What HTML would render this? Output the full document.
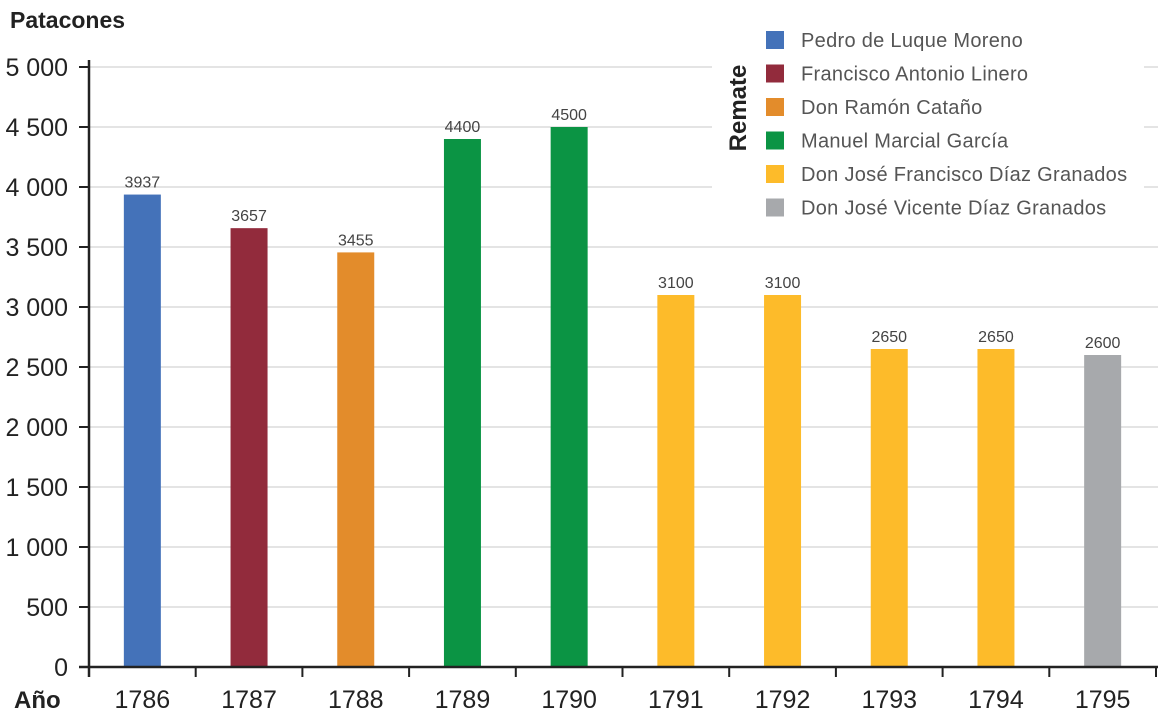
<!DOCTYPE html>
<html><head><meta charset="utf-8"><style>
body{margin:0;background:#fff;font-family:"Liberation Sans",sans-serif}
svg text{font-family:"Liberation Sans",sans-serif}
</style></head><body>
<svg width="1169" height="723" xmlns="http://www.w3.org/2000/svg" id="chart">
<g id="grid"></g><g id="bars"></g><g id="axes"></g><g id="legend"></g>
</svg>
<script>
const years=["1786","1787","1788","1789","1790","1791","1792","1793","1794","1795"];
const values=[3937,3657,3455,4400,4500,3100,3100,2650,2650,2600];
const owners=[0,1,2,3,3,4,4,4,4,5];
const names=["Pedro de Luque Moreno","Francisco Antonio Linero","Don Ramón Cataño","Manuel Marcial García","Don José Francisco Díaz Granados","Don José Vicente Díaz Granados"];
const colors=["#4472b9","#922b3c","#e38c2b","#0b9444","#fdbb2a","#a7a9ac"];
const yTicks=[0,500,1000,1500,2000,2500,3000,3500,4000,4500,5000];
const yLabels=["0","500","1 000","1 500","2 000","2 500","3 000","3 500","4 000","4 500","5 000"];
const NS="http://www.w3.org/2000/svg";
const x0=89,step=106.7,y0=667,yMax=5000,plotH=600;
const y=v=>y0-v/yMax*plotH;
const xc=i=>x0+step*(i+0.5);
function mk(p,t,a){const e=document.createElementNS(NS,t);for(const k in a)e.setAttribute(k,a[k]);p.appendChild(e);return e;}
const G=document.getElementById('grid'),B=document.getElementById('bars'),A=document.getElementById('axes'),L=document.getElementById('legend');
yTicks.forEach((t,i)=>{
 if(t>0){const g=mk(G,'line',{x1:x0,x2:1158,y1:y(t),y2:y(t),stroke:'#c8c8c8','stroke-width':1});
 
 }
 const tk=mk(A,'line',{x1:79,x2:x0,y1:y(t),y2:y(t),stroke:'#222','stroke-width':2});
 
 
 const tx=mk(A,'text',{x:68,y:y(t)+9,'text-anchor':'end','font-size':25,fill:'#222'});tx.textContent=yLabels[i];
 
 
});
const lb=mk(G,'rect',{x:712,y:20,width:432,height:215,fill:'#fff'});


years.forEach((yr,i)=>{
 const r=mk(B,'rect',{x:xc(i)-18.5,y:y(values[i]),width:37,height:y0-y(values[i]),fill:colors[owners[i]]});
 
 
 const v=mk(B,'text',{x:xc(i),y:y(values[i])-7,'text-anchor':'middle','font-size':16,fill:'#444'});v.textContent=values[i];
 
 
 const xl=mk(A,'text',{x:xc(i),y:708,'text-anchor':'middle','font-size':25,fill:'#222'});xl.textContent=yr;
 
 
});
for(let i=0;i<=10;i++){const t=mk(A,'line',{x1:x0+step*i,x2:x0+step*i,y1:y0,y2:677,stroke:'#222','stroke-width':2});
 
 }
const xa=mk(A,'line',{x1:79,x2:1158,y1:y0,y2:y0,stroke:'#222','stroke-width':2.5});


const ya=mk(A,'line',{x1:x0,x2:x0,y1:60,y2:677,stroke:'#222','stroke-width':2.5});


const yt=mk(A,'text',{x:10,y:28,'font-size':23,'font-weight':'bold',fill:'#222'});yt.textContent='Patacones';


const xt=mk(A,'text',{x:14,y:708,'font-size':24,'font-weight':'bold',fill:'#222'});xt.textContent='Año';


const lt=mk(L,'text',{x:746,y:108,'text-anchor':'middle','font-size':24,'font-weight':'bold',fill:'#222',transform:'rotate(-90 746 108)'});lt.textContent='Remate';


names.forEach((n,i)=>{
 const yy=40+i*33.5;
 const s=mk(L,'rect',{x:766,y:yy-9,width:18,height:18,fill:colors[i]});
 
 
 const t=mk(L,'text',{x:801,y:yy+7,'font-size':20,'letter-spacing':'0.3',fill:'#555'});t.textContent=n;
 
 
});
</script>
</body></html>
